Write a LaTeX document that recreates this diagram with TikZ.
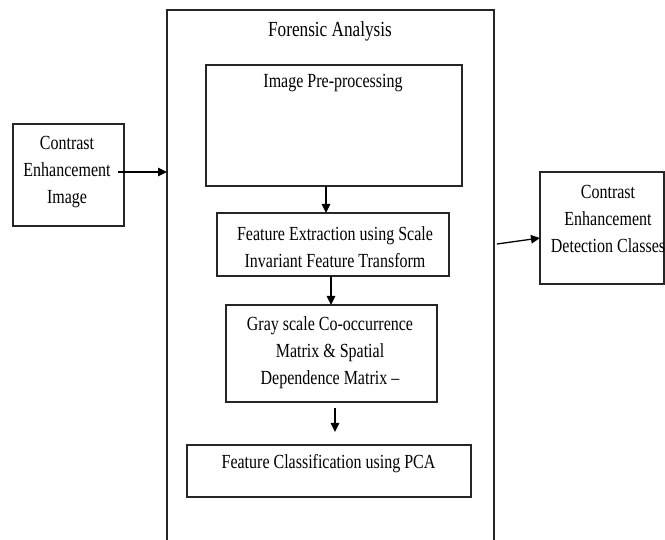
\documentclass[tikz,border=0pt]{standalone}
\usepackage{fontspec}
\setmainfont{Liberation Serif}[FakeStretch=0.8]
\usetikzlibrary{arrows.meta}
\begin{document}
\begin{tikzpicture}[x=1pt,y=-1pt,
 box/.style={draw=black!85,line width=1.4pt,inner sep=0pt,outer sep=0pt},
 txt/.style={font=\fontsize{20}{27}\selectfont,align=center,inner sep=0pt,text=black},
 arr/.style={draw=black,line width=1.3pt,-{Triangle[length=9pt,width=8.5pt]}}]
\useasboundingbox (0,0) rectangle (665,540);
\clip (0,0) rectangle (665,540);
\node[box,minimum width=327pt,minimum height=540pt] (fa) at (330.5,280) {};
\node[box,minimum width=256pt,minimum height=121pt] (pre) at (334,125.5) {};
\node[box,minimum width=232pt,minimum height=63pt] (fe) at (333,244.5) {};
\node[box,minimum width=211pt,minimum height=97pt] (gs) at (331.5,353.5) {};
\node[box,minimum width=284pt,minimum height=52pt] (fc) at (329,471) {};
\node[box,minimum width=111pt,minimum height=102pt] (lb) at (68.5,175) {};
\node[box,minimum width=124pt,minimum height=112pt] (rb) at (602,228) {};
\node[txt,font=\fontsize{21.5}{27}\selectfont] (tfa) at (330,31.5) {Forensic Analysis};
\node[txt] (tpre) at (333,83) {Image Pre-processing};
\node[txt] (tfe) at (335,247) {Feature Extraction using Scale\\Invariant Feature Transform};
\node[txt] (tgs) at (330,353) {Gray scale Co-occurrence\\Matrix \& Spatial\\Dependence Matrix --};
\node[txt] (tfc) at (328.5,464) {Feature Classification using PCA};
\node[txt] (tlb) at (67,172) {Contrast\\Enhancement\\Image};
\node[txt] (trb) at (608,219) {Contrast\\Enhancement\\Detection Classes};
\coordinate (a1s) at (118,172);
\draw[arr] (a1s) -- (a1s -| fa.west);
\draw[arr] ([xshift=-8pt]pre.south) -- ([xshift=-8pt]pre.south |- fe.north);
\draw[arr] ([xshift=-2pt]fe.south) -- ([xshift=-2pt]fe.south |- gs.north);
\coordinate (a4s) at (335,408);
\coordinate (a4e) at (335,432);
\draw[arr] (a4s) -- (a4e);
\coordinate (a5s) at (497,244);
\draw[arr] (a5s) -- ([yshift=-10pt]rb.west);
\end{tikzpicture}
\end{document}
